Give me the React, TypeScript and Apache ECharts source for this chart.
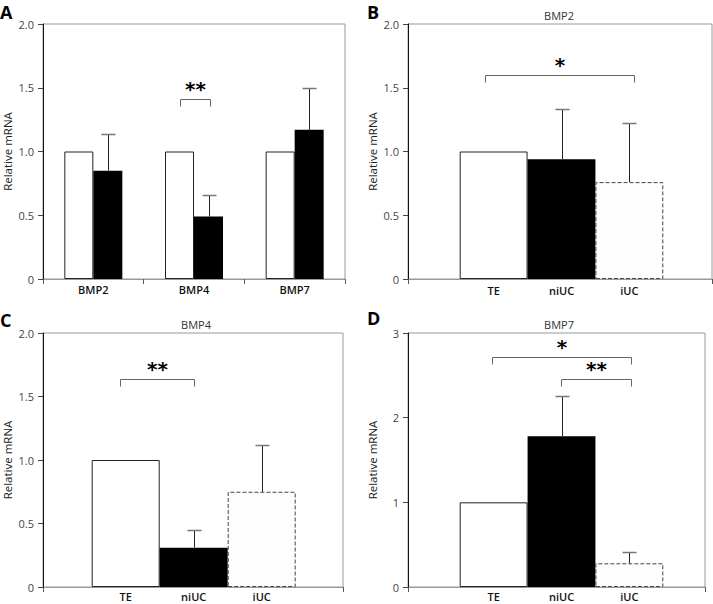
import React, { useEffect, useRef } from "react";
import * as echarts from "echarts";

// Panel A
const categoriesA = ["BMP2", "BMP4", "BMP7"];
const controlA = [1.0, 1.0, 1.0];
const treatedA = [0.85, 0.49, 1.17];
const treatedUpperA = [1.14, 0.66, 1.5];

// Panels B, C, D
const groups = ["TE", "niUC", "iUC"];
const bmp2Values = [1.0, 0.94, 0.76];
const bmp2Upper = [null, 1.33, 1.22];
const bmp4Values = [1.0, 0.31, 0.75];
const bmp4Upper = [null, 0.45, 1.12];
const bmp7Values = [1.0, 1.78, 0.28];
const bmp7Upper = [null, 2.26, 0.41];

const FONT = "Open Sans";
const yName = "Relative mRNA";

const groupStyles = [
  { color: "#ffffff", borderColor: "#222", borderWidth: 1 },
  { color: "#000000" },
  { color: "#fdfdfd", borderColor: "#444", borderWidth: 1, borderType: "dashed" },
];

function yAxisBox(gi: number, max: number, interval: number, dec: number) {
  return {
    type: "value",
    gridIndex: gi,
    min: 0,
    max,
    interval,
    name: yName,
    nameLocation: "middle",
    nameRotate: 90,
    nameGap: 30,
    nameTextStyle: { fontFamily: FONT, fontSize: 11.5, color: "#222" },
    axisLine: { show: true, lineStyle: { color: "#111", width: 1 } },
    axisTick: { show: true, length: 5, lineStyle: { color: "#444" } },
    axisLabel: {
      margin: 9,
      fontFamily: FONT,
      fontSize: 11,
      color: "#444",
      formatter: (v: number) => (v === 0 ? "0" : v.toFixed(dec)),
    },
    splitLine: { show: false },
  };
}

function yAxisHidden(gi: number, max: number) {
  return { type: "value", gridIndex: gi, min: 0, max, show: false, splitLine: { show: false } };
}

function xAxisBox(gi: number) {
  return {
    type: "category",
    gridIndex: gi,
    data: [""],
    axisLine: { show: true, lineStyle: { color: "#999" } },
    axisTick: { show: true, length: 5, lineStyle: { color: "#555" } },
    axisLabel: { show: false },
  };
}

function xAxisBars(gi: number, margin: number) {
  return {
    type: "category",
    gridIndex: gi,
    data: groups,
    axisLine: { show: false },
    axisTick: { show: false },
    axisLabel: { margin, fontFamily: FONT, fontSize: 11, fontWeight: 600, color: "#111" },
  };
}

function errorSeries(ai: number, dx: number, values: number[], uppers: (number | null)[]) {
  const data: number[][] = [];
  values.forEach((v, i) => {
    const u = uppers[i];
    if (u != null) data.push([i, v, u]);
  });
  return {
    type: "custom",
    xAxisIndex: ai,
    yAxisIndex: ai,
    silent: true,
    z: 5,
    data,
    renderItem: (_p: any, api: any) => {
      const b = api.coord([api.value(0), api.value(1)]);
      const t = api.coord([api.value(0), api.value(2)]);
      const x = Math.round(b[0] + dx) + 0.5;
      const yt = Math.round(t[1]) + 0.5;
      return {
        type: "group",
        children: [
          { type: "line", shape: { x1: x, y1: b[1], x2: x, y2: yt }, style: { stroke: "#222", lineWidth: 1 } },
          { type: "line", shape: { x1: x - 7, y1: yt, x2: x + 7, y2: yt }, style: { stroke: "#777", lineWidth: 1.5 } },
        ],
      };
    },
  };
}

function groupBarSeries(ai: number, values: number[]) {
  return {
    type: "bar",
    xAxisIndex: ai,
    yAxisIndex: ai,
    barCategoryGap: 0,
    barWidth: "100%",
    data: values.map((v, i) => ({ value: v, itemStyle: groupStyles[i] })),
  };
}

const boxGrid = (left: number, top: number, width: number, height: number) => ({
  left,
  top,
  width,
  height,
  show: true,
  borderColor: "#999",
  borderWidth: 1,
});

const barsGrid = (left: number, top: number, width: number, height: number) => ({
  left,
  top,
  width,
  height,
  show: false,
});

// brackets: [axisIndex, fromCat, fromDx, toCat, toDx, yValue, label]
const brackets: [number, number, number, number, number, number, string][] = [
  [0, 1, -14.5, 1, 15.5, 1.41, "**"],
  [2, 0, -9, 2, 5, 1.6, "*"],
  [4, 0, -6, 1, 0, 1.64, "**"],
  [6, 0, -2, 2, 2, 2.72, "*"],
  [6, 1, -1, 2, 2, 2.46, "**"],
];

const panelLetters = [
  { t: "A", x: 0, y: 3 },
  { t: "B", x: 367, y: 3 },
  { t: "C", x: 0, y: 311 },
  { t: "D", x: 367, y: 309 },
];
const panelTitles = [
  { t: "BMP2", x: 559, y: 10 },
  { t: "BMP4", x: 196, y: 319 },
  { t: "BMP7", x: 559, y: 319 },
];

export default function App() {
  const ref = useRef<HTMLDivElement>(null);
  useEffect(() => {
    if (!ref.current) return;
    const chart = echarts.init(ref.current, null, { renderer: "svg" });
    const option: any = {
      animation: false,
      backgroundColor: "#ffffff",
      grid: [
        boxGrid(42, 24, 303, 255),
        boxGrid(408, 24, 304, 255),
        barsGrid(459.7, 24, 203.6, 255),
        boxGrid(42, 333, 301, 254),
        barsGrid(91.7, 333, 204, 254),
        boxGrid(408, 333, 297, 254),
        barsGrid(459.7, 333, 203.6, 254),
      ],
      xAxis: [
        {
          type: "category",
          gridIndex: 0,
          data: categoriesA,
          axisLine: { show: true, lineStyle: { color: "#999" } },
          axisTick: { show: true, length: 5, lineStyle: { color: "#555" } },
          axisLabel: { margin: 5, fontFamily: FONT, fontSize: 11, fontWeight: 600, color: "#111" },
        },
        xAxisBox(1),
        xAxisBars(2, 6),
        xAxisBox(3),
        xAxisBars(4, 4),
        xAxisBox(5),
        xAxisBars(6, 4),
      ],
      yAxis: [
        yAxisBox(0, 2, 0.5, 1),
        yAxisBox(1, 2, 0.5, 1),
        yAxisHidden(2, 2),
        yAxisBox(3, 2, 0.5, 1),
        yAxisHidden(4, 2),
        yAxisBox(5, 3, 1, 0),
        yAxisHidden(6, 3),
      ],
      series: [
        {
          type: "bar",
          xAxisIndex: 0,
          yAxisIndex: 0,
          barWidth: 29,
          barGap: 0,
          data: controlA,
          itemStyle: { color: "#ffffff", borderColor: "#222", borderWidth: 1 },
        },
        {
          type: "bar",
          xAxisIndex: 0,
          yAxisIndex: 0,
          barWidth: 29,
          barGap: 0,
          data: treatedA,
          itemStyle: { color: "#000000" },
        },
        errorSeries(0, 14.5, treatedA, treatedUpperA),
        groupBarSeries(2, bmp2Values),
        errorSeries(2, 0, bmp2Values, bmp2Upper),
        groupBarSeries(4, bmp4Values),
        errorSeries(4, 0, bmp4Values, bmp4Upper),
        groupBarSeries(6, bmp7Values),
        errorSeries(6, 0, bmp7Values, bmp7Upper),
      ],
    };
    chart.setOption(option);

    const graphics: any[] = [];
    panelLetters.forEach((p) => {
      graphics.push({
        type: "text",
        x: p.x,
        y: p.y,
        style: { text: p.t, fontFamily: FONT, fontSize: 18, fontWeight: "bold", fill: "#000", textVerticalAlign: "top" },
      });
    });
    panelTitles.forEach((p) => {
      graphics.push({
        type: "text",
        x: p.x,
        y: p.y,
        style: { text: p.t, fontFamily: FONT, fontSize: 11, fill: "#333", textAlign: "center", textVerticalAlign: "top" },
      });
    });
    brackets.forEach(([ai, fc, fdx, tc, tdx, yv, label]) => {
      const a = chart.convertToPixel({ xAxisIndex: ai, yAxisIndex: ai } as any, [fc, yv]) as number[];
      const b = chart.convertToPixel({ xAxisIndex: ai, yAxisIndex: ai } as any, [tc, yv]) as number[];
      const x1 = Math.round(a[0] + fdx) + 0.5;
      const x2 = Math.round(b[0] + tdx) + 0.5;
      const y = Math.round(a[1]) + 0.5;
      graphics.push({
        type: "polyline",
        shape: { points: [[x1, y + 7], [x1, y], [x2, y], [x2, y + 7]] },
        style: { stroke: "#666", lineWidth: 1, fill: null },
      });
      graphics.push({
        type: "text",
        x: (x1 + x2) / 2,
        y: y - 1,
        style: {
          text: label,
          fontFamily: "DejaVu Sans",
          fontSize: 20,
          fontWeight: "bold",
          fill: "#000",
          textAlign: "center",
          textVerticalAlign: "bottom",
        },
      });
    });
    chart.setOption({ graphic: graphics });
    return () => chart.dispose();
  }, []);
  return <div ref={ref} style={{ position: "fixed", left: 0, top: 0, width: 713, height: 604 }} />;
}
